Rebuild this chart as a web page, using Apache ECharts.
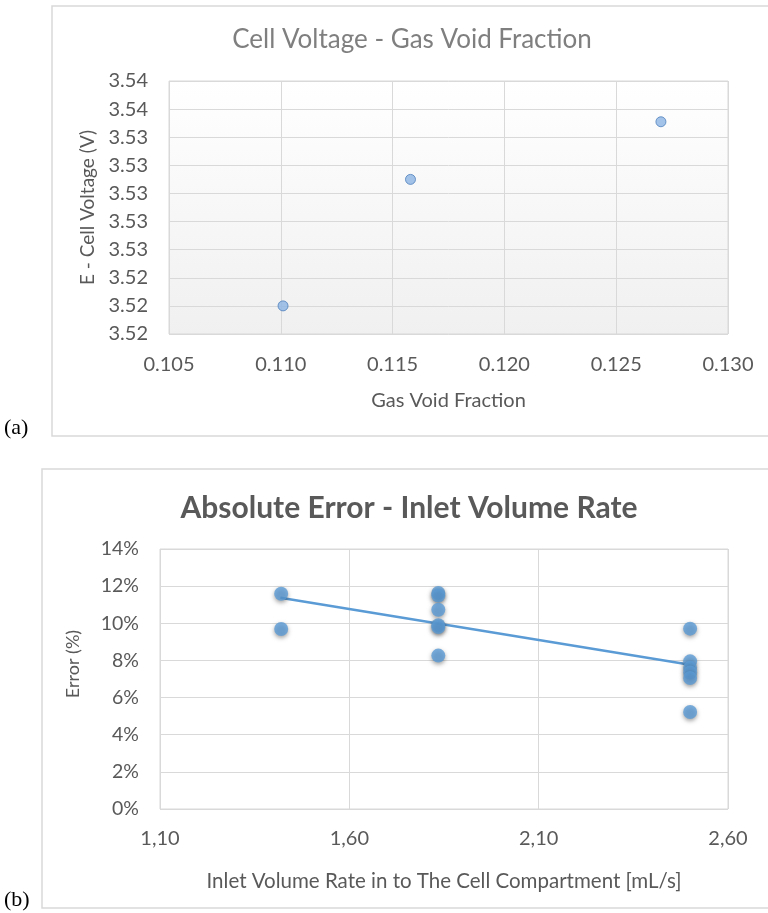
<!DOCTYPE html>
<html>
<head>
<meta charset="utf-8">
<script src="https://cdn.jsdelivr.net/npm/echarts@6/dist/echarts.min.js"></script>
<style>
html,body{margin:0;padding:0;background:#fff;}
#chart{width:768px;height:913px;}
</style>
</head>
<body>
<div id="chart"></div>
<script>
// ---- Chart (a) data ----
const gasVoidFraction = [0.1101, 0.1158, 0.1270];
const cellVoltage = [3.5220, 3.5310, 3.5351];

// ---- Chart (b) data ----
const inletRate = [1.42, 1.42, 1.835, 1.835, 1.835, 1.835, 1.835, 1.835, 2.50, 2.50, 2.50, 2.50, 2.50, 2.50];
const errorPct = [11.59, 9.69, 11.63, 11.50, 10.73, 9.90, 9.80, 8.26, 9.71, 7.95, 7.60, 7.35, 7.05, 5.22];
const trendX = [1.418, 2.50];
const trendY = [11.38, 7.77];

const FONT = 'Lato, "Open Sans", sans-serif';
const TXT = '#595959';
const GRID = '#d9d9d9';

const chart = echarts.init(document.getElementById('chart'), null, {renderer: 'canvas'});

const ptsA = gasVoidFraction.map((x, i) => [x, cellVoltage[i]]);
const ptsB = inletRate.map((x, i) => [x, errorPct[i]]);
const trend = trendX.map((x, i) => [x, trendY[i]]);

chart.setOption({
  animation: false,
  backgroundColor: '#fff',
  textStyle: {fontFamily: FONT},
  title: [
    {text: 'Cell Voltage - Gas Void Fraction', left: 407, top: 22, textAlign: 'center',
     textStyle: {fontFamily: FONT, fontSize: 26, fontWeight: 'normal', color: '#7f7f7f'}},
    {text: 'Absolute Error - Inlet Volume Rate', left: 404, top: 488, textAlign: 'center',
     textStyle: {fontFamily: FONT, fontSize: 30, fontWeight: 'bold', color: TXT}}
  ],
  graphic: [
    {type: 'rect', shape: {x: 52, y: 6, width: 730, height: 430}, style: {fill: 'none', stroke: GRID, lineWidth: 1.5}, z: -1},
    {type: 'rect', shape: {x: 42, y: 469, width: 740, height: 439}, style: {fill: 'none', stroke: GRID, lineWidth: 1.5}, z: -1},
    {type: 'text', left: 4, top: 417, style: {text: '(a)', font: '22px "Liberation Serif", serif', fill: '#000'}},
    {type: 'text', left: 4, top: 889, style: {text: '(b)', font: '22px "Liberation Serif", serif', fill: '#000'}}
  ],
  grid: [
    {left: 169, top: 81, width: 559, height: 253, show: true, borderColor: GRID, borderWidth: 1,
     backgroundColor: new echarts.graphic.LinearGradient(0, 0, 0, 1, [{offset: 0, color: '#ffffff'}, {offset: 1, color: '#f0f0f0'}])},
    {left: 160, top: 549, width: 568, height: 260, show: true, borderColor: GRID, borderWidth: 1, backgroundColor: '#fff'}
  ],
  xAxis: [
    {type: 'value', gridIndex: 0, min: 0.105, max: 0.130, interval: 0.005,
     name: 'Gas Void Fraction', nameLocation: 'middle', nameGap: 57,
     nameTextStyle: {fontFamily: FONT, fontSize: 20, color: TXT},
     axisLine: {show: false}, axisTick: {show: false},
     axisLabel: {margin: 21, fontSize: 20, color: TXT, fontFamily: FONT, formatter: v => v.toFixed(3)},
     splitLine: {show: true, lineStyle: {color: GRID, width: 1}}},
    {type: 'value', gridIndex: 1, min: 1.1, max: 2.6, interval: 0.5,
     name: 'Inlet Volume Rate in to The Cell Compartment [mL/s]', nameLocation: 'middle', nameGap: 62,
     nameTextStyle: {fontFamily: FONT, fontSize: 20.5, color: TXT},
     axisLine: {show: false}, axisTick: {show: false},
     axisLabel: {margin: 20, fontSize: 20, color: TXT, fontFamily: FONT, formatter: v => v.toFixed(2).replace('.', ',')},
     splitLine: {show: true, lineStyle: {color: GRID, width: 1}}}
  ],
  yAxis: [
    {type: 'value', gridIndex: 0, min: 3.520, max: 3.538, interval: 0.002,
     name: 'E - Cell Voltage (V)', nameLocation: 'middle', nameGap: 67,
     nameTextStyle: {fontFamily: FONT, fontSize: 19, color: TXT},
     axisLine: {show: false}, axisTick: {show: false},
     axisLabel: {margin: 21, fontSize: 20, color: TXT, fontFamily: FONT, formatter: v => v.toFixed(2)},
     splitLine: {show: true, lineStyle: {color: GRID, width: 1}}},
    {type: 'value', gridIndex: 1, min: 0, max: 14, interval: 2,
     name: 'Error (%)', nameLocation: 'middle', nameGap: 78,
     nameTextStyle: {fontFamily: FONT, fontSize: 18, color: TXT, padding: [0, 0, 0, 30]},
     axisLine: {show: false}, axisTick: {show: false},
     axisLabel: {margin: 21, fontSize: 19.5, color: TXT, fontFamily: FONT, formatter: v => v + '%'},
     splitLine: {show: true, lineStyle: {color: GRID, width: 1}}}
  ],
  series: [
    {type: 'scatter', xAxisIndex: 0, yAxisIndex: 0, data: ptsA, symbol: 'circle', symbolSize: 10,
     itemStyle: {color: '#8db4e2', borderColor: '#4f81bd', borderWidth: 1}},
    {type: 'line', xAxisIndex: 1, yAxisIndex: 1, data: trend, symbol: 'none',
     lineStyle: {color: '#5b9bd5', width: 2.5}, z: 2},
    {type: 'scatter', xAxisIndex: 1, yAxisIndex: 1, data: ptsB, symbol: 'circle', symbolSize: 14,
     itemStyle: {color: '#5b9bd5', shadowBlur: 4, shadowColor: 'rgba(0,0,0,0.45)', shadowOffsetY: 2}, z: 3}
  ]
});
</script>
</body>
</html>
